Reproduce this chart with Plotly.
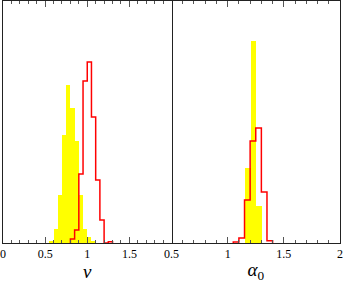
import plotly.graph_objects as go
from plotly.subplots import make_subplots

# Left panel (nu): yellow filled histogram
nu_yellow_edges = [0.55, 0.60, 0.65, 0.70, 0.75, 0.80, 0.85, 0.90, 0.95, 1.00, 1.05]
nu_yellow_vals = [2.3, 13.7, 48, 108, 158, 135, 102, 48, 14, 6, 2.3]
# Left panel (nu): red outline histogram
nu_red_edges = [0.80, 0.85, 0.90, 0.95, 1.00, 1.05, 1.10, 1.15, 1.20, 1.25]
nu_red_vals = [4, 13, 69, 162, 181, 126, 63, 23, 0, 1.2]

# Right panel (alpha_0)
a_yellow_edges = [1.15, 1.20, 1.25]
a_yellow_vals = [75, 202, 37]
a_red_edges = [1.05, 1.10, 1.15, 1.20, 1.25, 1.30, 1.35]
a_red_vals = [1, 5, 43, 102, 115, 51, 2.3]

BIN = 0.05
left_ticks = [0, 0.5, 1, 1.5]
right_ticks = [0.5, 1, 1.5, 2]

YELLOW = "#ffff00"
RED = "#ff0000"
FONT = "Liberation Serif"


def step_xy(edges, vals):
    xs = [edges[0]] + list(edges) + [edges[-1] + BIN]
    ys = [0] + list(vals) + [0]
    return xs, ys


fig = make_subplots(rows=1, cols=2, horizontal_spacing=0)

for col, (ye, yv, re, rv) in enumerate(
    [(nu_yellow_edges, nu_yellow_vals, nu_red_edges, nu_red_vals),
     (a_yellow_edges, a_yellow_vals, a_red_edges, a_red_vals)], start=1):
    fig.add_trace(go.Bar(x=[e + BIN / 2 for e in ye], y=yv, width=BIN,
                         marker=dict(color=YELLOW, line=dict(width=0)),
                         showlegend=False), row=1, col=col)
    sx, sy = step_xy(re, rv)
    fig.add_trace(go.Scatter(x=sx, y=sy, mode="lines",
                             line=dict(color=RED, width=1.5, shape="hv"),
                             showlegend=False), row=1, col=col)

common_x = dict(showline=True, linecolor="#222", linewidth=1, mirror="ticks",
                ticks="inside", ticklen=6, tickcolor="#555", tickwidth=1,
                showgrid=False, zeroline=False, automargin=False,
                minor=dict(ticks="inside", ticklen=3, dtick=0.1, tickcolor="#555", showgrid=False),
                tickfont=dict(family=FONT, size=12, color="black"))

fig.update_xaxes(range=[0, 2], tickvals=left_ticks, ticktext=[f"{t:g}" for t in left_ticks],
                 title=dict(text="<i>ν</i>", font=dict(family=FONT, size=19, color="black"), standoff=1),
                 domain=[0, 0.5], row=1, col=1, **common_x)
fig.update_xaxes(range=[0.5, 2], tickvals=right_ticks, ticktext=[f"{t:g}" for t in right_ticks],
                 title=dict(text="<i>α</i><sub>0</sub>", font=dict(family=FONT, size=19, color="black"), standoff=2),
                 domain=[0.5, 1], row=1, col=2, **common_x)
common_y = dict(range=[0, 242], showticklabels=False, ticks="", showgrid=False, zeroline=False,
                showline=True, linecolor="#222", linewidth=1, automargin=False)
fig.update_yaxes(mirror=True, row=1, col=1, **common_y)
fig.update_yaxes(mirror=False, side="right", row=1, col=2, **common_y)

fig.update_layout(width=343, height=288, margin=dict(l=3, r=3, t=1, b=45),
                  plot_bgcolor="white", paper_bgcolor="white", bargap=0)

fig.write_html("out.html", config={"displayModeBar": False},
               post_script="document.body.style.margin='0';document.body.style.overflow='hidden';")
